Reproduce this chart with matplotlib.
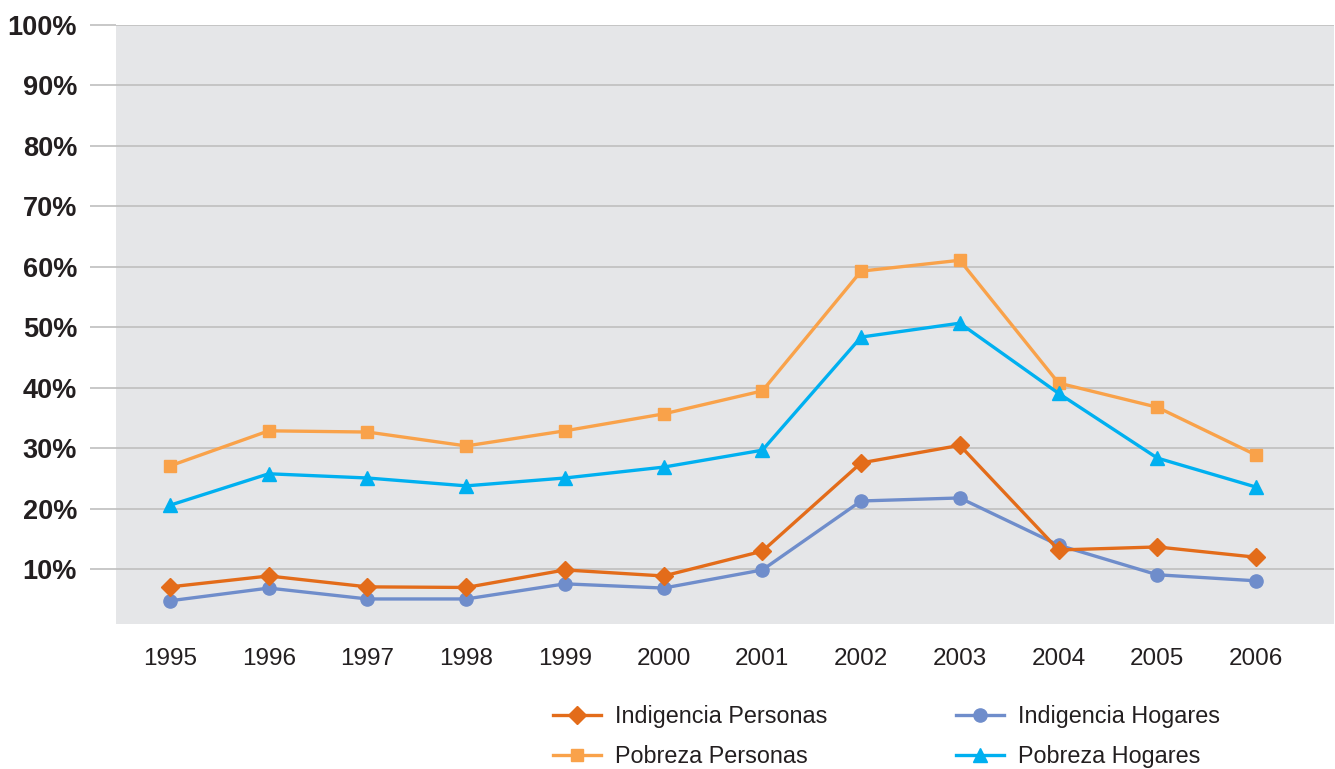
import matplotlib
matplotlib.use("Agg")
import matplotlib.pyplot as plt
from matplotlib.ticker import FixedLocator

years = ["1995", "1996", "1997", "1998", "1999", "2000", "2001", "2002", "2003", "2004", "2005", "2006"]
indigencia_personas = [7.1, 8.9, 7.1, 7.0, 9.9, 8.9, 13.0, 27.6, 30.5, 13.2, 13.7, 12.0]
indigencia_hogares = [4.8, 6.9, 5.1, 5.1, 7.6, 6.9, 9.9, 21.3, 21.8, 14.0, 9.1, 8.1]
pobreza_personas = [27.1, 32.9, 32.7, 30.4, 32.9, 35.7, 39.5, 59.3, 61.1, 40.8, 36.8, 28.9]
pobreza_hogares = [20.6, 25.8, 25.1, 23.8, 25.1, 26.9, 29.7, 48.4, 50.7, 39.1, 28.4, 23.6]
y_ticks = [10, 20, 30, 40, 50, 60, 70, 80, 90, 100]
y_labels = [f"{v}%" for v in y_ticks]

plt.rcParams['font.family'] = ['Liberation Sans', 'DejaVu Sans']

fig = plt.figure(figsize=(13.35, 7.69), dpi=100)
ax = fig.add_axes([116/1335, 1 - 624/769, 1218/1335, (624 - 25)/769])
ax.set_facecolor('#E5E6E8')

x = list(range(len(years)))
lw = 2.4
h1, = ax.plot(x, indigencia_personas, color='#E36C1A', lw=lw, marker='D', ms=9.5, label='Indigencia Personas', zorder=4)
h2, = ax.plot(x, indigencia_hogares, color='#6F8DCB', lw=lw, marker='o', ms=9.5, label='Indigencia Hogares', zorder=3)
h3, = ax.plot(x, pobreza_personas, color='#F9A24A', lw=lw, marker='s', ms=8, label='Pobreza Personas', zorder=3)
h4, = ax.plot(x, pobreza_hogares, color='#00B0F0', lw=lw, marker='^', ms=10, label='Pobreza Hogares', zorder=3)

ax.set_xlim(-0.547, 11.79)
ax.set_ylim(0.96, 100)
ax.set_xticks(x)
ax.set_xticklabels(years, fontsize=17.5)
ax.yaxis.set_major_locator(FixedLocator(y_ticks))
ax.set_yticklabels(y_labels, fontsize=19.5, fontweight='bold', color='#231F20')
ax.tick_params(axis='x', length=0, pad=17, colors='#231F20')
ax.tick_params(axis='y', length=19, width=1.2, color='#BFBFBF', pad=9)
ax.grid(axis='y', color='#BFBFBF', lw=1.2, zorder=1)
ax.set_axisbelow(True)
for s in ax.spines.values():
    s.set_visible(False)

fig.legend(handles=[h1, h3, h2, h4], ncol=2, loc='upper left',
           bbox_to_anchor=(532/1335, 1 - 684/769), frameon=False,
           fontsize=16.8, handlelength=2.05, handletextpad=0.62,
           columnspacing=5.5, labelspacing=0.72, labelcolor='#231F20')

fig.savefig('out.png', dpi=100)
